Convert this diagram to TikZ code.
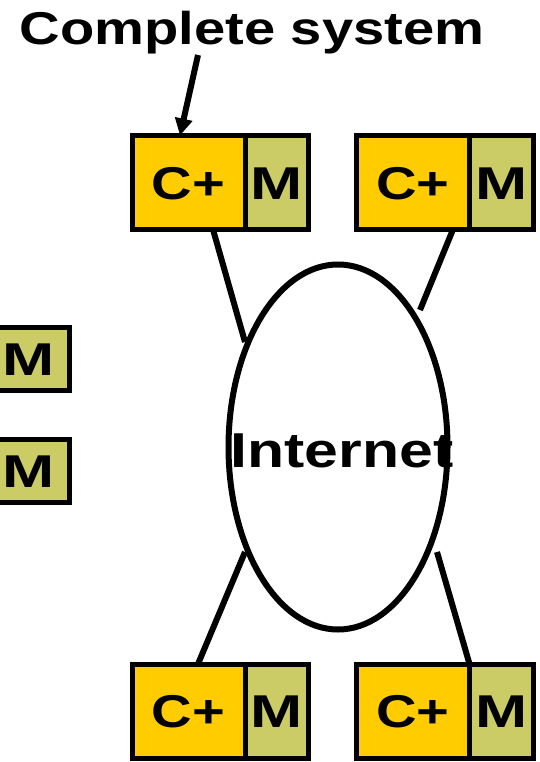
\documentclass[tikz,border=0pt]{standalone}
\usepackage{fontspec}
\usepackage{graphicx}
\setmainfont{Liberation Sans}
\usetikzlibrary{shapes.geometric,arrows.meta}

\definecolor{cpgold}{RGB}{255,204,0}
\definecolor{memolive}{RGB}{204,204,102}

% horizontally widened lettering
\newcommand{\wideC}[1]{\scalebox{1.22}[1]{#1}}
\newcommand{\wideM}[1]{\scalebox{1.36}[1]{#1}}

\begin{document}
\begin{tikzpicture}[x=1pt,y=-1pt,
  every node/.style={inner sep=0pt,outer sep=0pt},
  unitbox/.style={draw=black,line width=5pt,minimum height=94pt,
    font=\fontsize{46}{50}\selectfont\bfseries,text height=33pt,text depth=0pt},
  cpbox/.style={unitbox,fill=cpgold,minimum width=113pt},
  membox/.style={unitbox,fill=memolive,minimum width=63.5pt},
  lonemem/.style={unitbox,fill=memolive,minimum width=81.5pt,minimum height=63pt},
  cloud/.style={draw=black,line width=6pt,ellipse,minimum width=219pt,minimum height=365pt},
  conn/.style={draw=black,line width=6pt},
  bigtext/.style={font=\fontsize{46}{50}\selectfont\bfseries}
]
\path[use as bounding box,clip] (0,0) rectangle (539,762);

% the network
\node[cloud] (net) at (338,447) {};
\node[font=\fontsize{49}{54}\selectfont\bfseries,text height=35pt,text depth=0pt]
  (nettext) at (342,449.5) {\scalebox{1.24}[1]{Internet}};

% complete systems: compute unit plus memory
\node[cpbox] (tlc) at (188.5,182.5) {\wideC{C+}};
\node[membox,anchor=west] (tlm) at (tlc.east) {\wideM{M}};
\node[cpbox] (trc) at (413,182.5) {\wideC{C+}};
\node[membox,anchor=west] (trm) at (trc.east) {\wideM{M}};
\node[cpbox] (blc) at (188.5,711) {\wideC{C+}};
\node[membox,anchor=west] (blm) at (blc.east) {\wideM{M}};
\node[cpbox] (brc) at (413,711) {\wideC{C+}};
\node[membox,anchor=west] (brm) at (brc.east) {\wideM{M}};

% stand-alone memories
\node[lonemem] (m1) at (28.75,359) {\wideM{M}};
\node[lonemem] (m2) at (28.75,471) {\wideM{M}};

% links to the network
\coordinate (tlend) at (245,342);
\coordinate (trend) at (420,310);
\coordinate (blend) at (245,552);
\coordinate (brend) at (437,552);
\draw[conn] ([xshift=24.5pt]tlc.south) -- (tlend);
\draw[conn] ([xshift=40pt]trc.south) -- (trend);
\draw[conn] ([xshift=9.5pt]blc.north) -- (blend);
\draw[conn] (brc.north east) -- (brend);

% caption with pointer
\node[bigtext,anchor=base] (title) at (252,45) {\wideC{Complete system}};
\coordinate (tail) at (198,55);
\draw[conn,-{Triangle[width=17pt,length=17pt]}] (tail) -- ([xshift=-8.5pt]tlc.north);
\end{tikzpicture}
\end{document}
